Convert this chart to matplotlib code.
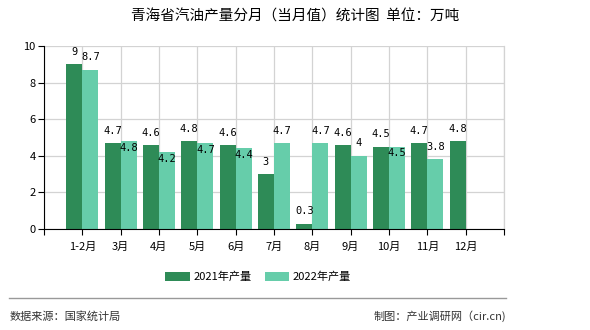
import numpy as np
import matplotlib
matplotlib.use("Agg")
import matplotlib.pyplot as plt
from matplotlib.lines import Line2D

plt.rcParams['font.family'] = ['Noto Sans CJK SC', 'DejaVu Sans']

# data
months = ['1-2月', '3月', '4月', '5月', '6月', '7月', '8月', '9月', '10月', '11月', '12月']
y2021 = [9, 4.7, 4.6, 4.8, 4.6, 3, 0.3, 4.6, 4.5, 4.7, 4.8]
y2022 = [8.7, 4.8, 4.2, 4.7, 4.4, 4.7, 4.7, 4, 4.5, 3.8, None]

c21 = '#2e8b57'
c22 = '#66cdaa'

fig = plt.figure(figsize=(5.9, 3.3), dpi=100)
ax = fig.add_axes([44/590, 1-229/330, 460/590, 183/330])

x = np.arange(1, len(months)+1)
w = 0.42
ax.bar(x - w/2, y2021, w, color=c21, label='2021年产量', zorder=3)
x22 = [xi for xi, v in zip(x, y2022) if v is not None]
v22 = [v for v in y2022 if v is not None]
ax.bar(np.array(x22) + w/2, v22, w, color=c22, label='2022年产量', zorder=3)

# value labels
lab = dict(fontsize=7.5, family='DejaVu Sans Mono', ha='center', zorder=4)
for xi, v in zip(x, y2021):
    ax.text(xi - w/2, v + 0.4, f'{v:g}', va='bottom', **lab)
for xi, v1, v2 in zip(x, y2021, y2022):
    if v2 is None:
        continue
    s1, s2 = f'{v1:g}', f'{v2:g}'
    # push the label into the bar when it would hit the neighbour's label
    if abs(v1 - v2) < 0.55 and len(s1) > 1 and len(s2) > 1:
        ax.text(xi + w/2, v2 - 0.1, s2, va='top', **lab)
    else:
        ax.text(xi + w/2, v2 + 0.4, s2, va='bottom', **lab)

ax.set_xlim(0, 12)
ax.set_ylim(0, 10)
ax.set_yticks(range(0, 11, 2))
ax.set_xticks(range(0, 13))
ax.set_xticklabels([''] + months + [''])
ax.tick_params(axis='both', labelsize=8, length=4, color='black', pad=2)
ax.tick_params(axis='x', pad=5)
ax.grid(True, color='#d3d3d3', lw=0.9, zorder=0)
ax.axvline(12, color='#d3d3d3', lw=0.9, zorder=0, clip_on=False)
for s in ['top', 'right']:
    ax.spines[s].set_visible(False)
for s in ['left', 'bottom']:
    ax.spines[s].set_color('black')
    ax.spines[s].set_zorder(5)

fig.text(0.5, 1-17/330, '青海省汽油产量分月（当月值）统计图  单位：万吨',
         ha='center', va='center', fontsize=10.5, color='black')

fig.legend(loc='center', bbox_to_anchor=(258/590, 1-277/330), ncol=2, frameon=False,
           fontsize=8, handlelength=2.2, handleheight=0.8, columnspacing=1.2,
           handletextpad=0.3)

fig.add_artist(Line2D([9/590, 506/590], [1-298/330, 1-298/330], color='#999999', lw=1))
fig.text(10/590, 1-316/330, '数据来源：国家统计局', ha='left', va='center', fontsize=8, color='#333333')
fig.text(506/590, 1-316/330, '制图：产业调研网（cir.cn)', ha='right', va='center', fontsize=8, color='#333333')

fig.savefig('out.png', dpi=100)
